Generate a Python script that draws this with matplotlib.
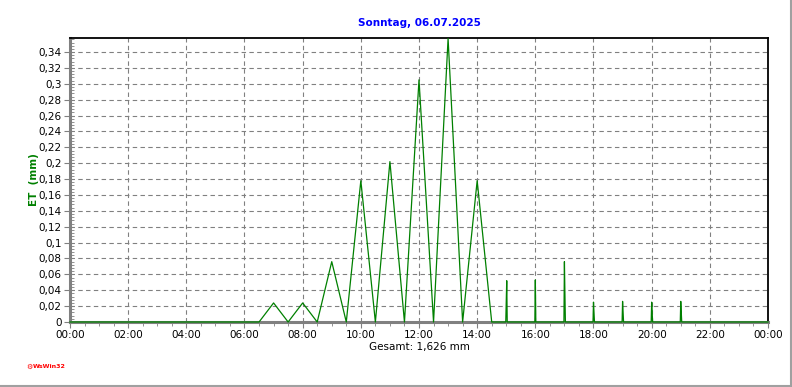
import matplotlib
matplotlib.use('Agg')
import matplotlib.pyplot as plt
from matplotlib.ticker import MultipleLocator, FuncFormatter
from matplotlib.lines import Line2D

# ET readings over the day (time, mm)
times = ['00:00', '06:30', '07:00', '07:30', '08:00', '08:30', '09:00', '09:30',
         '10:00', '10:30', '11:00', '11:30', '12:00', '12:30', '13:00', '13:30',
         '14:00', '14:30',
         '14:59', '15:00', '15:01', '15:02',
         '15:59', '16:00', '16:01',
         '16:59', '17:00', '17:01', '17:02',
         '17:59', '18:00', '18:01', '18:02',
         '18:59', '19:00', '19:01', '19:02',
         '19:59', '20:00', '20:01', '20:02',
         '20:59', '21:00', '21:01', '21:02',
         '24:00']
et = [0, 0, 0.024, 0, 0.024, 0, 0.076, 0,
      0.178, 0, 0.202, 0, 0.305, 0, 0.357, 0,
      0.178, 0,
      0, 0.026, 0.052, 0,
      0, 0.053, 0,
      0, 0.076, 0.037, 0,
      0, 0.025, 0.012, 0,
      0, 0.026, 0.013, 0,
      0, 0.025, 0.012, 0,
      0, 0.026, 0.013, 0,
      0]

title = 'Sonntag, 06.07.2025'
total = 'Gesamt: 1,626 mm'

hours = [int(t[:2]) + int(t[3:]) / 60 for t in times]

fig = plt.figure(figsize=(7.92, 3.87), dpi=100)
ax = fig.add_axes([70 / 792, 65 / 387, 698 / 792, 284 / 387])

ax.plot(hours, et, color='#008000', lw=0.9, clip_on=False, zorder=5)

ax.set_xlim(0, 24)
ax.set_ylim(0, 0.3577)

ax.xaxis.set_major_locator(MultipleLocator(2))
ax.xaxis.set_minor_locator(MultipleLocator(0.5))
ax.xaxis.set_major_formatter(FuncFormatter(lambda v, p: '%02d:00' % (int(round(v)) % 24)))
ax.yaxis.set_major_locator(MultipleLocator(0.02))
ax.yaxis.set_minor_locator(MultipleLocator(0.004))
ax.yaxis.set_major_formatter(FuncFormatter(
    lambda v, p: '0' if abs(v) < 1e-9 else ('%.2f' % v).rstrip('0').replace('.', ',')))

ax.tick_params(axis='both', which='major', direction='out', length=4,
               color='#808080', labelsize=7.5, pad=2)
ax.tick_params(axis='x', which='minor', direction='out', length=3, color='#808080')
ax.tick_params(axis='y', which='minor', direction='in', length=3, color='#808080')

ax.grid(True, which='major', color='#808080', ls=(0, (4, 3)), lw=0.8)
ax.set_axisbelow(True)

for s in ['top', 'right']:
    ax.spines[s].set_color('black')
    ax.spines[s].set_linewidth(1.3)
for s in ['left', 'bottom']:
    ax.spines[s].set_color('#808080')
    ax.spines[s].set_linewidth(2.2)

ax.set_title(title, color='#0000ff', fontsize=7.5, fontweight='bold', pad=9)
ax.set_ylabel('ET  (mm)', color='#008000', fontsize=7.5, fontweight='bold', labelpad=0)
ax.set_xlabel(total, fontsize=7.5, labelpad=1)

fig.text(29 / 792, 1 - 367 / 387, '\u2699', color='red', fontsize=5, va='center', ha='center')
fig.text(33 / 792, 1 - 367 / 387, 'WsWin32', color='red', fontsize=4.5,
         fontweight='bold', va='center')

# window frame on right and bottom
fig.add_artist(Line2D([1 - 1 / 792, 1 - 1 / 792], [0, 1], color='#a0a0a0', lw=1.5))
fig.add_artist(Line2D([0, 1], [1 / 387, 1 / 387], color='#a0a0a0', lw=1.5))

fig.savefig('out.png', dpi=100)
